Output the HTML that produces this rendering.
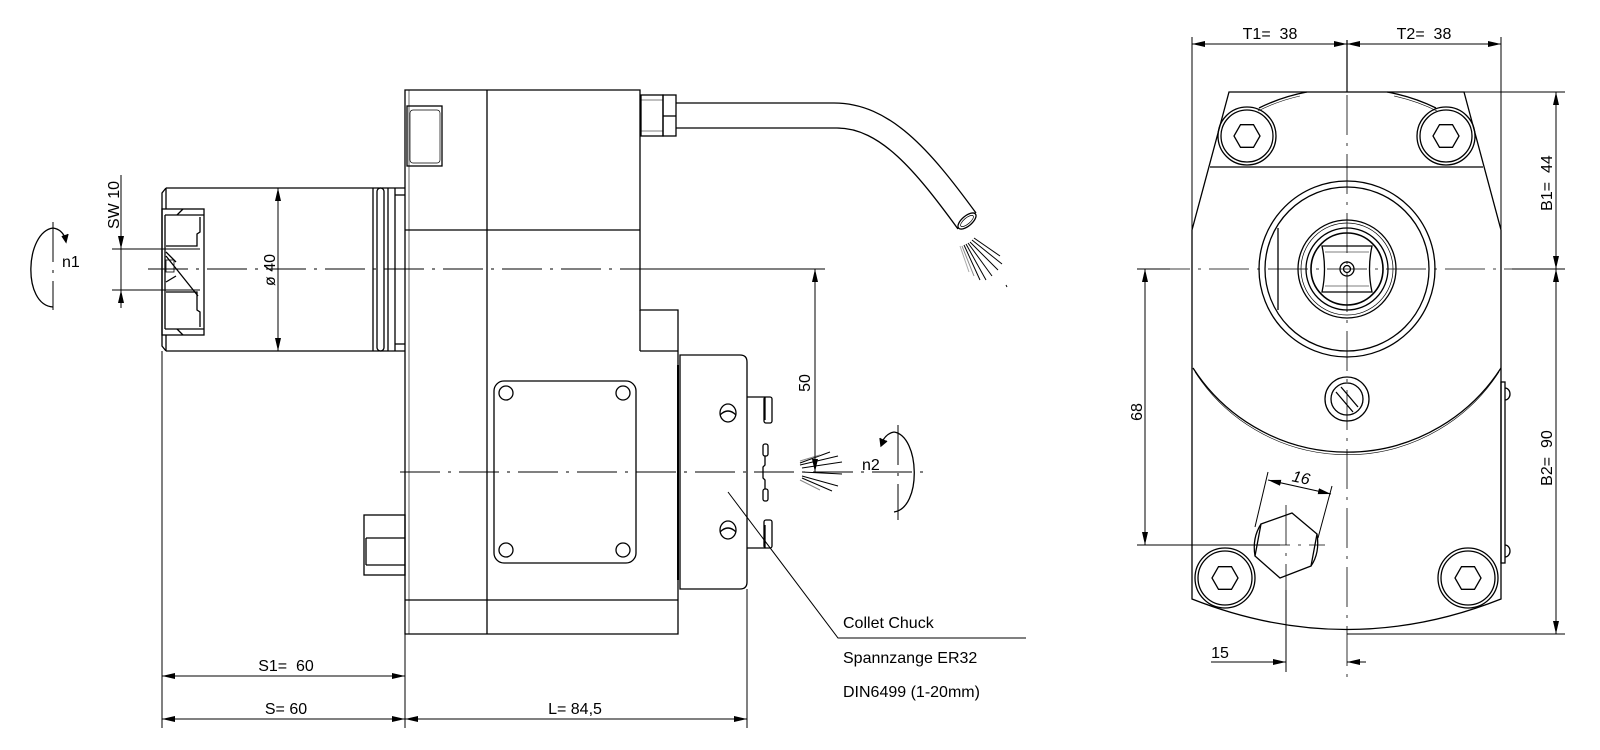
<!DOCTYPE html>
<html><head><meta charset="utf-8"><style>
html,body{margin:0;padding:0;background:#fff;}
svg{display:block;}
text{font-family:"Liberation Sans",sans-serif;fill:#000;white-space:pre;}
</style></head><body>
<svg width="1600" height="750" viewBox="0 0 1600 750" xmlns="http://www.w3.org/2000/svg" xml:space="preserve">
<defs>
<marker id="a" viewBox="0 0 13 7" refX="13" refY="3.5" markerWidth="13" markerHeight="7" markerUnits="userSpaceOnUse" orient="auto-start-reverse"><path d="M0,0.5 L13,3.5 L0,6.5 z" fill="#000"/></marker>
</defs>
<g fill="none" stroke="#000" stroke-width="1.3">
<path d="M405,90 H640 V310 H678 V634 H405 Z"/>
<line x1="487" y1="90" x2="487" y2="634"/>
<line x1="405" y1="230" x2="640" y2="230"/>
<line x1="640" y1="310" x2="640" y2="351"/>
<line x1="640" y1="351" x2="678" y2="351"/>
<line x1="405" y1="600" x2="678" y2="600"/>
<line x1="409" y1="90" x2="409" y2="634" stroke-width="0.6"/>
<rect x="407" y="106" width="35" height="60"/>
<rect x="410" y="110" width="30" height="53" rx="3" stroke-width="0.7"/>
<rect x="641" y="95" width="22" height="41"/>
<line x1="641" y1="100" x2="663" y2="100" stroke-width="0.6"/>
<line x1="641" y1="131" x2="663" y2="131" stroke-width="0.6"/>
<rect x="663" y="95" width="13" height="41"/>
<line x1="663" y1="116" x2="676" y2="116"/>
<path d="M676,103 H834 C890,103 930,150 976,213"/>
<path d="M676,128 H837 C880,128 915,170 958,229"/>
<ellipse cx="967" cy="221" rx="11" ry="5" transform="rotate(-40 967 221)"/>
<ellipse cx="967" cy="221" rx="8" ry="3" transform="rotate(-40 967 221)" stroke-width="0.7"/>
<g stroke-width="1">
<line x1="974" y1="238" x2="1000" y2="256"/><line x1="972" y1="240" x2="1002" y2="264"/>
<line x1="970" y1="242" x2="998" y2="270"/><line x1="968" y1="243" x2="992" y2="276"/>
<line x1="966" y1="244" x2="986" y2="280"/><line x1="964" y1="245" x2="980" y2="280"/>
<line x1="962" y1="246" x2="974" y2="276" stroke="#888"/><line x1="960" y1="246" x2="969" y2="272" stroke="#aaa"/>
<line x1="1006" y1="285" x2="1007" y2="287"/>
</g>
<path d="M166,188 H405 M166,351 H405 M166,188 L162,193 V346 L166,351"/>
<line x1="166" y1="188" x2="166" y2="209"/><line x1="166" y1="335" x2="166" y2="351"/>
<rect x="162" y="209" width="42" height="126"/>
<line x1="165" y1="215" x2="204" y2="215"/><line x1="165" y1="329" x2="204" y2="329"/>
<line x1="165" y1="215" x2="165" y2="329"/>
<path d="M200,217 V232 L197,234 V246 L166,246 M200,327 V312 L197,310 V292 L166,292"/>
<path d="M166,256 L198,296 M166,252 L176,262 M166,282 L176,276 M183,209 L177,215 M183,335 L177,329"/>
<rect x="166" y="260" width="8" height="12" stroke-width="0.8"/>
<line x1="373" y1="188" x2="373" y2="351"/>
<rect x="377" y="188" width="7" height="163" rx="3.5"/>
<line x1="388" y1="188" x2="388" y2="351"/>
<line x1="395" y1="188" x2="395" y2="351"/>
<line x1="395" y1="195" x2="405" y2="195"/><line x1="395" y1="344" x2="405" y2="344"/>
<rect x="494" y="381" width="142" height="182" rx="10"/>
<circle cx="506" cy="393" r="7"/><circle cx="623" cy="393" r="7"/>
<circle cx="506" cy="550" r="7"/><circle cx="623" cy="550" r="7"/>
<path d="M680,355 H740 Q747,355 747,362 V582 Q747,589 740,589 H680 Z"/>
<line x1="678" y1="365" x2="678" y2="580" stroke-width="2"/>
<ellipse cx="728" cy="413" rx="8" ry="9"/><path d="M720,415 Q728,407 736,415"/>
<ellipse cx="728" cy="530" rx="8" ry="9"/><path d="M720,532 Q728,524 736,532"/>
<path d="M747,397 H765 V420 M747,548 H765 V525"/>
<rect x="764" y="397" width="8" height="26" rx="2"/>
<rect x="764" y="520" width="8" height="28" rx="2"/>
<rect x="763" y="444" width="5" height="12" rx="2"/>
<rect x="763" y="489" width="5" height="12" rx="2"/>
<path d="M765,456 V465 L763,467 V478 L765,480 V489"/>
<rect x="364" y="515" width="41" height="60"/>
<line x1="366" y1="538" x2="405" y2="538"/><line x1="366" y1="565" x2="405" y2="565"/>
<line x1="366" y1="538" x2="366" y2="565"/>
<g stroke-width="1">
<line x1="800" y1="465" x2="838" y2="456"/><line x1="802" y1="468" x2="842" y2="462"/>
<line x1="802" y1="472" x2="842" y2="474"/><line x1="802" y1="476" x2="838" y2="486"/>
<line x1="802" y1="478" x2="832" y2="491" /><line x1="800" y1="463" x2="830" y2="452"/>
<line x1="800" y1="480" x2="820" y2="490" stroke="#888"/><line x1="800" y1="461" x2="820" y2="455" stroke="#888"/>
</g>
<polyline points="728,492 838,638 1026,638" stroke-width="1"/>
<g stroke-width="1" stroke-dasharray="40 8 3 8">
<line x1="148" y1="269" x2="822" y2="269"/>
<line x1="400" y1="472" x2="925" y2="472"/>
<line x1="53" y1="222" x2="53" y2="310"/>
<line x1="898" y1="425" x2="898" y2="520"/>
</g>
<path d="M53,228 C25,232 22,305 53,307"/>
<path d="M53,228 C60,229 64,234 66,240"/>
<path d="M62,236 L66,242 L68,234" fill="#000"/>
<path d="M894,432 C920,436 922,508 894,512"/>
<path d="M894,432 C888,433 884,438 882,442"/>
<path d="M880,438 L881,446 L887,441" fill="#000"/>
<line x1="121" y1="175" x2="121" y2="305" stroke-width="1"/>
<line x1="121" y1="230" x2="121" y2="249" marker-end="url(#a)" stroke-width="1"/>
<line x1="121" y1="308" x2="121" y2="290" marker-end="url(#a)" stroke-width="1"/>
<line x1="112" y1="249" x2="200" y2="249" stroke-width="1"/>
<line x1="112" y1="290" x2="200" y2="290" stroke-width="1"/>
<line x1="278" y1="188" x2="278" y2="351" marker-start="url(#a)" marker-end="url(#a)" stroke-width="1"/>
<line x1="652" y1="269" x2="825" y2="269" stroke-width="1"/>
<line x1="815" y1="269" x2="815" y2="472" marker-start="url(#a)" marker-end="url(#a)" stroke-width="1"/>
<line x1="162" y1="351" x2="162" y2="728" stroke-width="1"/>
<line x1="405" y1="634" x2="405" y2="728" stroke-width="1"/>
<line x1="747" y1="589" x2="747" y2="728" stroke-width="1"/>
<line x1="162" y1="676" x2="405" y2="676" marker-start="url(#a)" marker-end="url(#a)" stroke-width="1"/>
<line x1="162" y1="719" x2="405" y2="719" marker-start="url(#a)" marker-end="url(#a)" stroke-width="1"/>
<line x1="405" y1="719" x2="747" y2="719" marker-start="url(#a)" marker-end="url(#a)" stroke-width="1"/>

<path d="M1229,92 H1464 L1501,230 V599 Q1347,660 1192,599 V230 Z"/>
<line x1="1210" y1="167" x2="1483" y2="167"/>
<path d="M1259,108 A183,183 0 0 1 1307,92 M1387,92 A183,183 0 0 1 1436,108" />
<path d="M1258,111 A180,180 0 0 1 1300,96 M1394,96 A180,180 0 0 1 1437,111" stroke-width="0.6"/>
<path d="M1193,368 A183,183 0 0 0 1501,368"/>
<path d="M1195,372 A181,181 0 0 0 1499,372" stroke-width="0.6"/>
<circle cx="1247" cy="136" r="29"/><circle cx="1247" cy="136" r="26"/>
<polygon points="1260,136 1253.5,147.3 1240.5,147.3 1234,136 1240.5,124.7 1253.5,124.7"/>
<circle cx="1446" cy="136" r="29"/><circle cx="1446" cy="136" r="26"/>
<polygon points="1459,136 1452.5,147.3 1439.5,147.3 1433,136 1439.5,124.7 1452.5,124.7"/>
<circle cx="1225" cy="578" r="30"/><circle cx="1225" cy="578" r="27"/>
<polygon points="1238,578 1231.5,589.3 1218.5,589.3 1212,578 1218.5,566.7 1231.5,566.7"/>
<circle cx="1468" cy="578" r="30"/><circle cx="1468" cy="578" r="27"/>
<polygon points="1481,578 1474.5,589.3 1461.5,589.3 1455,578 1461.5,566.7 1474.5,566.7"/>
<circle cx="1347" cy="269" r="88"/><circle cx="1347" cy="269" r="82"/>
<circle cx="1347" cy="269" r="49"/><circle cx="1347" cy="269" r="46" stroke-width="0.7"/>
<circle cx="1347" cy="269" r="41"/><circle cx="1347" cy="269" r="36" stroke-width="1.6"/>
<path d="M1322,246 H1372 Q1367,269 1372,292 H1322 Q1327,269 1322,246 Z"/>
<line x1="1325" y1="252" x2="1369" y2="252" stroke-width="0.6"/>
<line x1="1325" y1="286" x2="1369" y2="286" stroke-width="0.6"/>
<circle cx="1347" cy="269" r="7"/><circle cx="1347" cy="269" r="3.5"/>
<line x1="1278" y1="228" x2="1278" y2="310"/>
<circle cx="1347" cy="399" r="22"/><circle cx="1347" cy="399" r="16"/>
<path d="M1336,392 L1353,412 M1341,387 L1358,407"/>
<rect x="1501" y="382" width="4" height="181"/>
<path d="M1505,388 A5,6 0 0 1 1505,400 M1505,545 A5,6 0 0 1 1505,557"/>
<polygon points="1317,534 1311,566 1280,578 1255,556 1261,524 1292,513"/>
<path d="M1261,524 Q1252,538 1255,556" /><path d="M1317,534 Q1320,553 1311,566"/>
<g stroke-width="0.8" stroke-dasharray="40 8 3 8">
<line x1="1347" y1="95" x2="1347" y2="680"/>
<line x1="1150" y1="269" x2="1512" y2="269"/>
<line x1="1286" y1="505" x2="1286" y2="590"/>
<line x1="1250" y1="545" x2="1325" y2="545"/>
</g>
<line x1="1347" y1="40" x2="1347" y2="92" stroke-width="1.2"/>
<line x1="1192" y1="37" x2="1192" y2="230" stroke-width="1"/>
<line x1="1501" y1="37" x2="1501" y2="230" stroke-width="1"/>
<line x1="1192" y1="44" x2="1347" y2="44" marker-start="url(#a)" marker-end="url(#a)" stroke-width="1"/>
<line x1="1347" y1="44" x2="1501" y2="44" marker-start="url(#a)" marker-end="url(#a)" stroke-width="1"/>
<line x1="1464" y1="92" x2="1565" y2="92" stroke-width="1"/>
<line x1="1512" y1="269" x2="1565" y2="269" stroke-width="1"/>
<line x1="1347" y1="634" x2="1565" y2="634" stroke-width="1"/>
<line x1="1556" y1="92" x2="1556" y2="269" marker-start="url(#a)" marker-end="url(#a)" stroke-width="1"/>
<line x1="1556" y1="269" x2="1556" y2="634" marker-start="url(#a)" marker-end="url(#a)" stroke-width="1"/>
<line x1="1137" y1="269" x2="1170" y2="269" stroke-width="1"/>
<line x1="1137" y1="545" x2="1280" y2="545" stroke-width="1"/>
<line x1="1145" y1="269" x2="1145" y2="545" marker-start="url(#a)" marker-end="url(#a)" stroke-width="1"/>
<line x1="1286" y1="590" x2="1286" y2="672" stroke-width="1"/>
<line x1="1268" y1="472" x2="1255" y2="527" stroke-width="1"/>
<line x1="1332" y1="486" x2="1318" y2="538" stroke-width="1"/>
<line x1="1268" y1="480" x2="1331" y2="494" marker-start="url(#a)" marker-end="url(#a)" stroke-width="1"/>
<line x1="1211" y1="662" x2="1286" y2="662" marker-end="url(#a)" stroke-width="1"/>
<line x1="1366" y1="662" x2="1347" y2="662" marker-end="url(#a)" stroke-width="1"/>
</g>
<g font-size="16">
<text x="119" y="205" transform="rotate(-90 119 205)" text-anchor="middle">SW 10</text>
<text x="62" y="267">n1</text>
<text x="275" y="270" transform="rotate(-90 275 270)" text-anchor="middle">ø 40</text>
<text x="810" y="383" transform="rotate(-90 810 383)" text-anchor="middle">50</text>
<text x="862" y="470">n2</text>
<text x="286" y="671" text-anchor="middle">S1=&#160; 60</text>
<text x="286" y="714" text-anchor="middle">S= 60</text>
<text x="575" y="714" text-anchor="middle">L= 84,5</text>
<text x="843" y="628">Collet Chuck</text>
<text x="843" y="663">Spannzange ER32</text>
<text x="843" y="697">DIN6499 (1-20mm)</text>
<text x="1270" y="39" text-anchor="middle">T1=&#160; 38</text>
<text x="1424" y="39" text-anchor="middle">T2=&#160; 38</text>
<text x="1552" y="183" transform="rotate(-90 1552 183)" text-anchor="middle">B1=&#160; 44</text>
<text x="1552" y="458" transform="rotate(-90 1552 458)" text-anchor="middle">B2=&#160; 90</text>
<text x="1142" y="412" transform="rotate(-90 1142 412)" text-anchor="middle">68</text>
<text x="1300" y="483" text-anchor="middle" transform="rotate(12 1300 483)" font-style="italic">16</text>
<text x="1220" y="658" text-anchor="middle">15</text>
</g>
</svg>
</body></html>
